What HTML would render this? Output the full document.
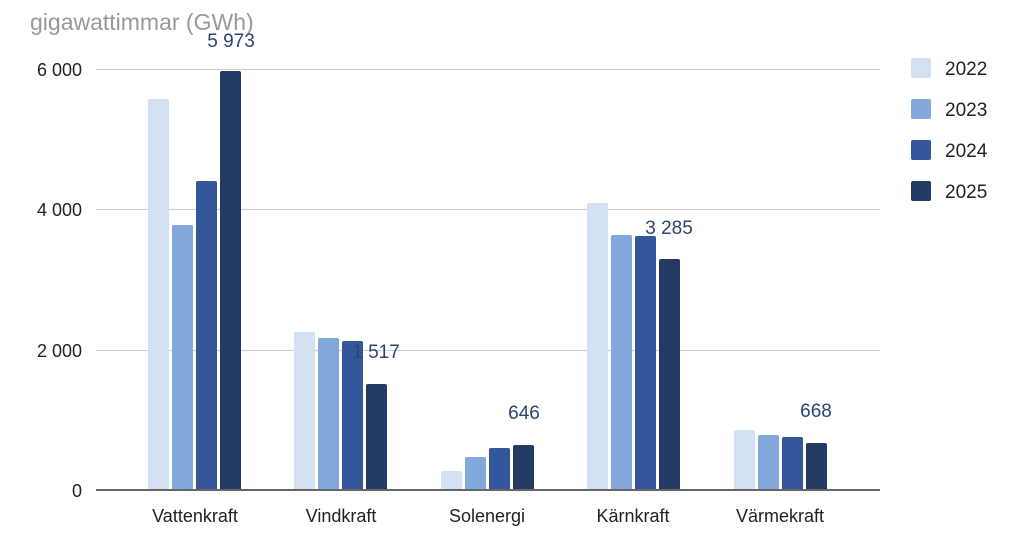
<!DOCTYPE html>
<html><head><meta charset="utf-8"><style>
html,body{margin:0;padding:0;background:#fff;}
svg{display:block;font-family:"Liberation Sans",Arial,sans-serif;}
</style></head><body>
<svg width="1024" height="556" viewBox="0 0 1024 556" xmlns="http://www.w3.org/2000/svg">
<text x="30" y="30" font-size="23" fill="#999">gigawattimmar (GWh)</text>
<g stroke="#ccc" stroke-width="1">
<line x1="96" y1="69.5" x2="880" y2="69.5"/>
<line x1="96" y1="209.5" x2="880" y2="209.5"/>
<line x1="96" y1="350.5" x2="880" y2="350.5"/>
</g>
<g font-size="18" fill="#222" text-anchor="end">
<text x="82" y="76">6 000</text>
<text x="82" y="216">4 000</text>
<text x="82" y="357">2 000</text>
<text x="82" y="497">0</text>
</g>
<g id="bars">
<rect x="148" y="99" width="21" height="394" rx="2" fill="#d4e1f3"/>
<rect x="172" y="225" width="21" height="268" rx="2" fill="#83a8db"/>
<rect x="196" y="181" width="21" height="312" rx="2" fill="#33579a"/>
<rect x="220" y="71" width="21" height="422" rx="2" fill="#233a63"/>
<rect x="294" y="332" width="21" height="161" rx="2" fill="#d4e1f3"/>
<rect x="318" y="338" width="21" height="155" rx="2" fill="#83a8db"/>
<rect x="342" y="341" width="21" height="152" rx="2" fill="#33579a"/>
<rect x="366" y="384" width="21" height="109" rx="2" fill="#233a63"/>
<rect x="441" y="471" width="21" height="22" rx="2" fill="#d4e1f3"/>
<rect x="465" y="457" width="21" height="36" rx="2" fill="#83a8db"/>
<rect x="489" y="448" width="21" height="45" rx="2" fill="#33579a"/>
<rect x="513" y="445" width="21" height="48" rx="2" fill="#233a63"/>
<rect x="587" y="203" width="21" height="290" rx="2" fill="#d4e1f3"/>
<rect x="611" y="235" width="21" height="258" rx="2" fill="#83a8db"/>
<rect x="635" y="236" width="21" height="257" rx="2" fill="#33579a"/>
<rect x="659" y="259" width="21" height="234" rx="2" fill="#233a63"/>
<rect x="734" y="430" width="21" height="63" rx="2" fill="#d4e1f3"/>
<rect x="758" y="435" width="21" height="58" rx="2" fill="#83a8db"/>
<rect x="782" y="437" width="21" height="56" rx="2" fill="#33579a"/>
<rect x="806" y="443" width="21" height="50" rx="2" fill="#233a63"/>
</g>
<rect x="96" y="489" width="784" height="10" fill="#fff"/>
<line x1="96" y1="490" x2="880" y2="490" stroke="#333" stroke-width="1.5"/>
<g font-size="19" fill="#2d4472" text-anchor="middle">
<text x="231" y="47">5 973</text>
<text x="376" y="358">1 517</text>
<text x="524" y="419">646</text>
<text x="669" y="234">3 285</text>
<text x="816" y="417">668</text>
</g>
<g font-size="18" fill="#222" text-anchor="middle">
<text x="195" y="522">Vattenkraft</text>
<text x="341" y="522">Vindkraft</text>
<text x="487" y="522">Solenergi</text>
<text x="633" y="522">Kärnkraft</text>
<text x="780" y="522">Värmekraft</text>
</g>
<g>
<rect x="911" y="58" width="20" height="20" rx="2" fill="#d4e1f3"/>
<rect x="911" y="99" width="20" height="20" rx="2" fill="#83a8db"/>
<rect x="911" y="140" width="20" height="20" rx="2" fill="#33579a"/>
<rect x="911" y="181" width="20" height="20" rx="2" fill="#233a63"/>
</g>
<g font-size="19" fill="#222">
<text x="945" y="75">2022</text>
<text x="945" y="116">2023</text>
<text x="945" y="157">2024</text>
<text x="945" y="198">2025</text>
</g>
</svg>
</body></html>
